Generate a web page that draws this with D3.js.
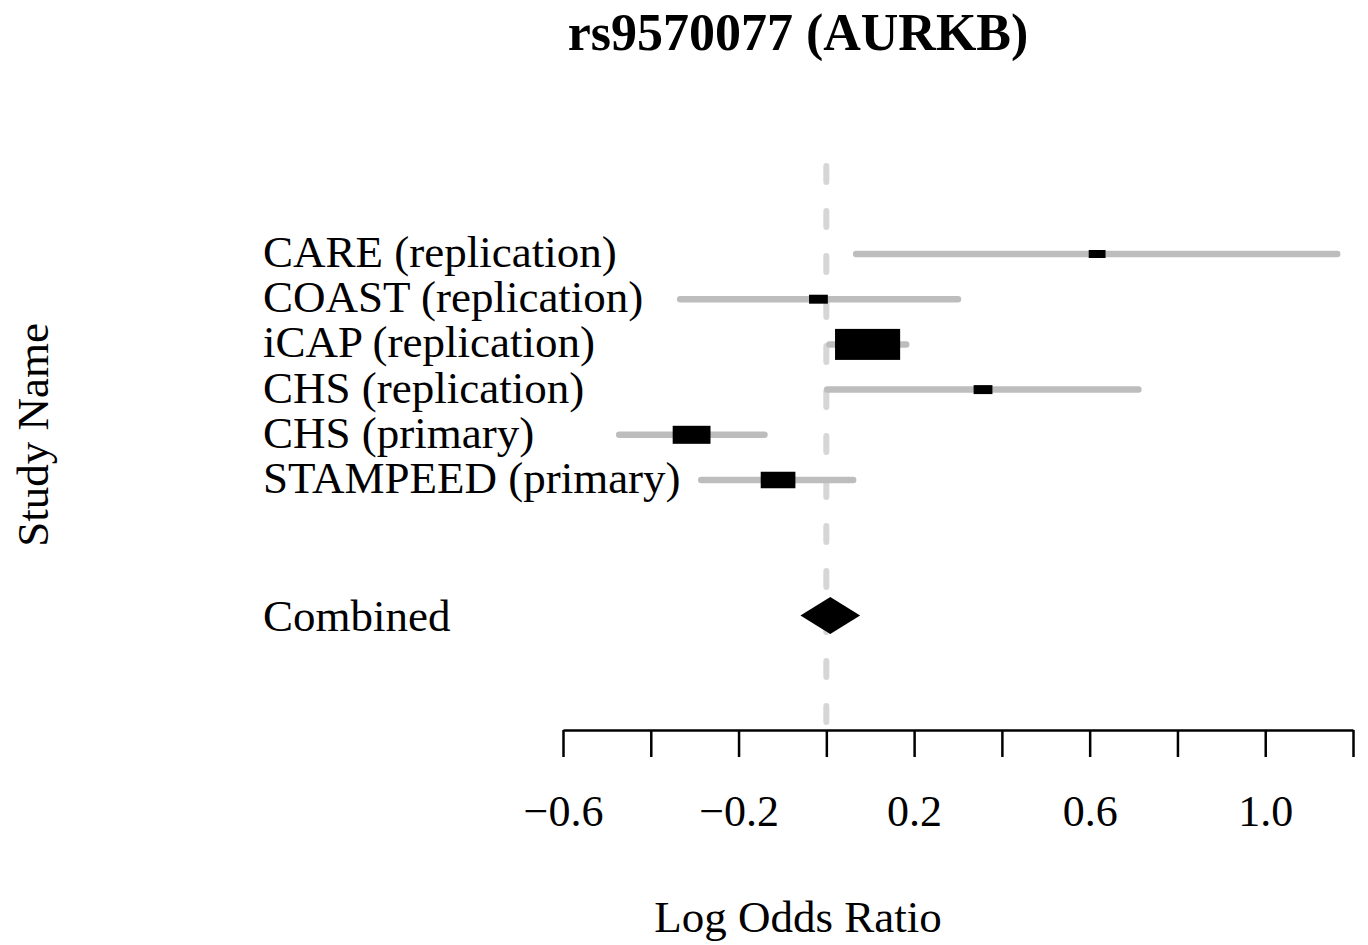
<!DOCTYPE html>
<html>
<head>
<meta charset="utf-8">
<script src="https://cdn.jsdelivr.net/npm/d3@7"></script>
<style>
  html, body { margin: 0; padding: 0; background: #fff; }
  svg { display: block; font-family: "Liberation Serif", "Times New Roman", serif; }
</style>
</head>
<body>
<div id="chart"></div>
<script>
// forest plot — log odds ratio per study
const studies = ['CARE (replication)', 'COAST (replication)', 'iCAP (replication)',
                 'CHS (replication)', 'CHS (primary)', 'STAMPEED (primary)'];
const estimate = [0.617, -0.018, 0.094, 0.357, -0.307, -0.110];
const lower    = [0.068, -0.333, 0.007, 0.002, -0.472, -0.285];
const upper    = [1.164, 0.300, 0.182, 0.711, -0.141, 0.061];
const weight   = [3.6, 4.5, 53.9, 4.5, 18.2, 15.3];   // relative study weight (%)

const combinedLabel = 'Combined';
const combined = { est: 0.009, lo: -0.059, hi: 0.077 };

const tickValues = [-0.6, -0.4, -0.2, 0, 0.2, 0.4, 0.6, 0.8, 1.0, 1.2];
const tickLabels = [-0.6, -0.2, 0.2, 0.6, 1.0];

const W = 1368, H = 945;
const svg = d3.select('#chart').append('svg').attr('width', W).attr('height', H);

const x = d3.scaleLinear().domain([-0.6, 1.2]).range([563, 1353]);
const y = d3.scaleLinear().domain([0, 1]).range([254, 299.2]);   // row index -> px
const combinedRow = 8;
const boxH = d3.scaleSqrt().domain([0, d3.max(weight)]).range([0, 31]);
const fontSize = 45;

// reference line at zero
svg.append('line')
  .attr('x1', x(0)).attr('x2', x(0)).attr('y1', 166).attr('y2', 730)
  .attr('stroke', '#d6d6d6').attr('stroke-width', 6)
  .attr('stroke-linecap', 'round').attr('stroke-dasharray', '16 29');

const rows = studies.map((s, i) => ({ name: s, i, est: estimate[i], lo: lower[i], hi: upper[i], w: weight[i] }));

// confidence intervals
svg.selectAll('.ci').data(rows).enter().append('line')
  .attr('x1', d => x(d.lo)).attr('x2', d => x(d.hi))
  .attr('y1', d => y(d.i)).attr('y2', d => y(d.i))
  .attr('stroke', '#bdbdbd').attr('stroke-width', 6.5).attr('stroke-linecap', 'round');

// point estimates
svg.selectAll('.box').data(rows).enter().append('rect')
  .attr('x', d => x(d.est) - boxH(d.w) * 1.05)
  .attr('y', d => y(d.i) - boxH(d.w) / 2)
  .attr('width', d => boxH(d.w) * 2.1)
  .attr('height', d => boxH(d.w))
  .attr('fill', '#000');

// study labels
svg.selectAll('.label').data(rows).enter().append('text')
  .attr('x', 263).attr('y', d => y(d.i) + 13)
  .style('font-size', fontSize + 'px').attr('fill', '#000')
  .text(d => d.name);

// combined estimate
const cy = y(combinedRow);
svg.append('path')
  .attr('d', `M${x(combined.lo)},${cy}L${x(combined.est)},${cy - 18.5}L${x(combined.hi)},${cy}L${x(combined.est)},${cy + 18.5}Z`)
  .attr('fill', '#000');
svg.append('text').attr('x', 263).attr('y', cy + 15)
  .style('font-size', fontSize + 'px').text(combinedLabel);

// x axis
const fmt = d3.format('.1f');
const axis = svg.append('g').attr('transform', 'translate(0,730)')
  .call(d3.axisBottom(x).tickValues(tickValues).tickSize(27).tickSizeOuter(0)
    .tickFormat(d => tickLabels.some(t => Math.abs(t - d) < 1e-9) ? fmt(d) : ''));
axis.select('.domain').attr('stroke', '#000').attr('stroke-width', 2.5);
axis.selectAll('.tick line').attr('stroke', '#000').attr('stroke-width', 2.5);
axis.selectAll('.tick text').attr('y', 96).attr('dy', 0)
  .style('font-size', '44px').style('font-family', '"Liberation Serif", serif').attr('fill', '#000');

// titles
svg.append('text').attr('x', 798).attr('y', 50).attr('text-anchor', 'middle')
  .style('font-size', '52px').style('font-weight', 'bold').text('rs9570077 (AURKB)');
svg.append('text').attr('x', 798).attr('y', 932).attr('text-anchor', 'middle')
  .style('font-size', fontSize + 'px').text('Log Odds Ratio');
svg.append('text').attr('transform', 'translate(48,435) rotate(-90)').attr('text-anchor', 'middle')
  .style('font-size', fontSize + 'px').text('Study Name');
</script>
</body>
</html>
